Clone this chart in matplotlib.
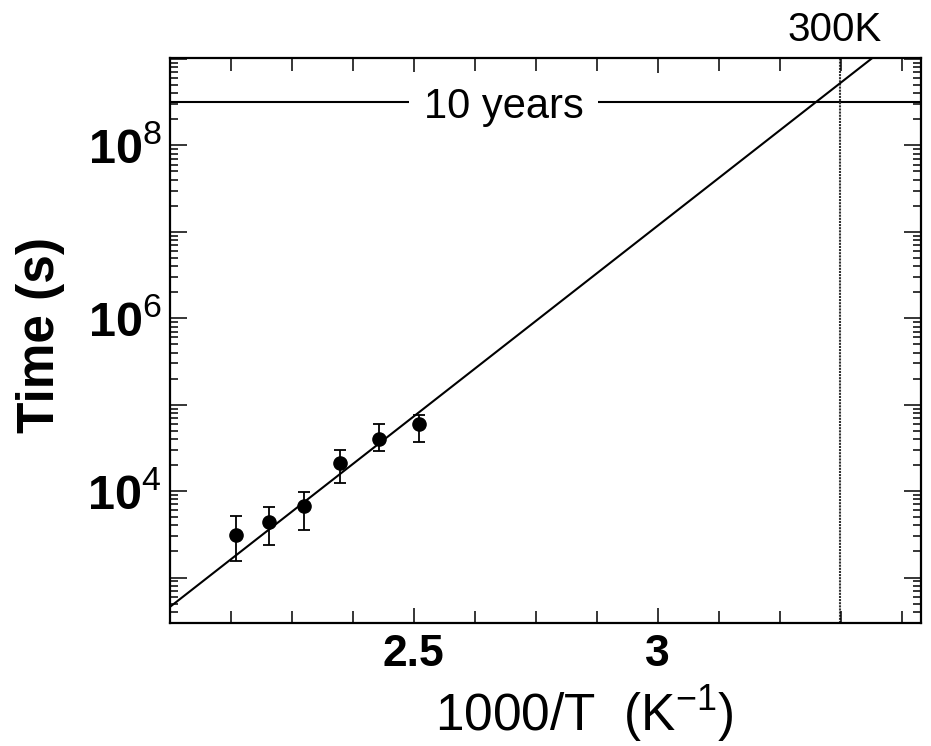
import math
import matplotlib
matplotlib.use('Agg')
import matplotlib.pyplot as plt
import matplotlib.transforms as mtransforms
from matplotlib.ticker import FixedLocator, FuncFormatter, LogLocator, MultipleLocator

plt.rcParams['font.family'] = ['Liberation Sans', 'DejaVu Sans']
plt.rcParams['mathtext.fontset'] = 'custom'
plt.rcParams['mathtext.rm'] = 'Liberation Sans'
plt.rcParams['mathtext.bf'] = 'Liberation Sans:bold'

# measured points (1000/T, time in s) with error bar limits
inv_temp = [2.135, 2.204, 2.275, 2.348, 2.428, 2.511]
time_s = [3.1e3, 4.4e3, 6.7e3, 2.1e4, 4.0e4, 5.9e4]
time_hi = [5.2e3, 6.6e3, 9.8e3, 3.0e4, 6.0e4, 7.7e4]
time_lo = [1.55e3, 2.35e3, 3.55e3, 1.24e4, 2.9e4, 3.7e4]

# Arrhenius fit line end points
fit_x = [2.0, 3.46]
fit_t = [10 ** 2.66, 10 ** 9.10]

ten_years = 3.156e8
x_300k = 3.373

fig = plt.figure(figsize=(9.31, 7.46), dpi=100)
ax = fig.add_axes([0.1826, 0.1653, 0.8067, 0.757])

yerr = [[t - lo for t, lo in zip(time_s, time_lo)],
        [hi - t for t, hi in zip(time_s, time_hi)]]
ax.errorbar(inv_temp, time_s, yerr=yerr, fmt='o', color='black',
            markersize=9.5, elinewidth=1.3, capsize=4.5, capthick=1.3, zorder=4)
ax.plot(fit_x, fit_t, color='black', lw=1.5, zorder=3)

ax.axhline(ten_years, color='black', lw=1.5, zorder=1.5)
ax.text(2.684, ten_years, '10 years', fontsize=30, ha='center', va='center_baseline',
        bbox=dict(boxstyle='square,pad=0.35', facecolor='white', edgecolor='none'),
        zorder=2)
ax.axvline(x_300k, color='0.2', lw=1.5, ls=(0, (1, 0.5)), zorder=1.5)
trans = mtransforms.blended_transform_factory(ax.transData, ax.transAxes)
ax.text(3.363, 1.05, '300K', fontsize=29, ha='center', va='center', transform=trans)

ax.set_yscale('log')
ax.set_xlim(2.0, 3.54)
ax.set_ylim(3e2, 1.03e9)

ax.xaxis.set_major_locator(FixedLocator([2.5, 3.0]))
ax.xaxis.set_minor_locator(MultipleLocator(0.125))
ax.xaxis.set_major_formatter(FuncFormatter(lambda v, p: '%g' % v))
ax.yaxis.set_major_locator(LogLocator(base=10, numticks=20))
ax.yaxis.set_minor_locator(LogLocator(base=10, subs=range(2, 10), numticks=50))


def ylab(v, p):
    e = int(round(math.log10(v)))
    if e % 2 == 0:
        return r'$\mathbf{10}^{\mathrm{%d}}$' % e
    return ''


ax.yaxis.set_major_formatter(FuncFormatter(ylab))

ax.tick_params(which='both', direction='in', top=True, right=True, width=1.1)
ax.tick_params(axis='x', which='major', length=11, pad=8, labelsize=32)
ax.tick_params(axis='x', which='minor', length=9)
ax.tick_params(axis='y', which='major', length=12, pad=6, labelsize=35)
ax.tick_params(axis='y', which='minor', length=6)
for lab in ax.get_xticklabels():
    lab.set_fontweight('bold')
for s in ax.spines.values():
    s.set_linewidth(1.6)

ax.set_xlabel(r'1000/T  (K$^{-1}$)', fontsize=37)
ax.xaxis.set_label_coords(0.551, -0.108)
ax.set_ylabel('Time (s)', fontsize=37, fontweight='bold')
ax.yaxis.set_label_coords(-0.140, 0.51)

fig.savefig('out.png', dpi=100)
